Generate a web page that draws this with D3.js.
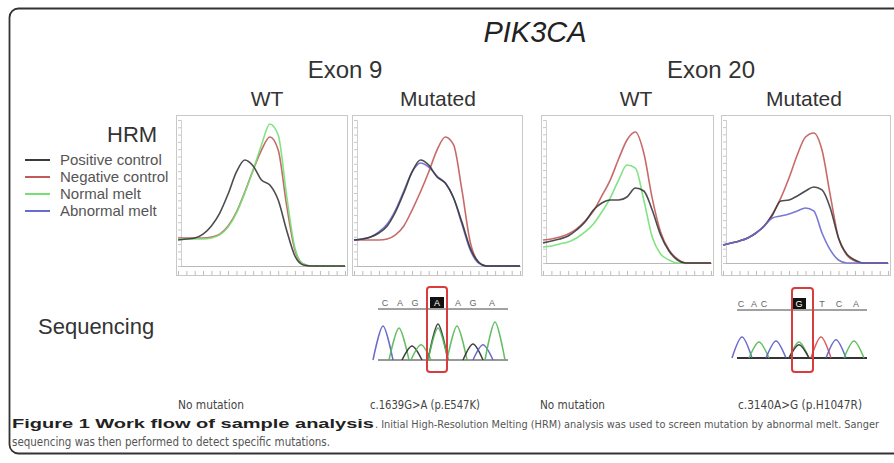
<!DOCTYPE html>
<html>
<head>
<meta charset="utf-8">
<script src="https://cdn.jsdelivr.net/npm/d3@7"></script>
<style>
body { margin: 0; background: #fff; }
text { font-family: Arial, "Liberation Sans", sans-serif; }
.narrow { font-family: "DejaVu Sans Condensed", "Liberation Sans Narrow", sans-serif; font-stretch: condensed; }
</style>
</head>
<body>
<div id="fig"></div>
<script>
// ---- data ----
const seriesNames = ["Positive control", "Negative control", "Normal melt", "Abnormal melt"];
const meltTemp = [76.0, 76.5, 77.0, 77.5, 78.0, 78.5, 79.0, 79.5, 80.0, 80.5, 81.0,
                  81.5, 82.0, 82.5, 83.0, 83.5, 84.0, 84.5, 85.0, 85.5, 86.0];

// -dF/dT (arbitrary units)
const exon9WtPos  = [17.3, 18, 18.7, 21.3, 26.7, 35.3, 48, 62.7, 70.7, 66.7, 57.3, 54, 44, 24, 6.7, 0.7, 0, 0, 0, 0, 0];
const exon9WtNeg  = [18.7, 18.7, 18.7, 18.7, 19.3, 21.3, 26.7, 36, 49.3, 64, 77.3, 86, 77.3, 40.7, 10.7, 1.3, 0, 0, 0, 0, 0];
const exon9WtNorm = [18, 18, 18, 18, 18.7, 20.7, 26, 35.3, 48.7, 64, 80.7, 94.7, 87.3, 47.3, 12, 1.3, 0, 0, 0, 0, 0];

const exon9MutPos = [17.3, 18, 19.3, 22, 26.7, 36, 48.7, 62.7, 70.7, 67.3, 59.3, 55.3, 45.3, 29.3, 12, 2.7, 0, 0, 0, 0, 0];
const exon9MutNeg = [17.3, 17.3, 17.3, 17.3, 18, 20.7, 26.7, 37.3, 49.3, 62.7, 77.3, 86, 80.7, 50.7, 16, 2.7, 0, 0, 0, 0, 0];
const exon9MutAbn = [17.3, 18, 19.3, 22.7, 28, 37.3, 50, 62.7, 68.7, 66, 60, 55.3, 45.3, 28, 10.7, 2, 0, 0, 0, 0, 0];

const exon20WtPos  = [13.3, 14.7, 16, 18, 22, 27.3, 35.3, 40, 42, 42, 44, 50, 48, 35.3, 18.7, 8, 2, 0, 0, 0, 0];
const exon20WtNeg  = [15.3, 16, 17.3, 19.3, 22.7, 28, 34.7, 44.7, 55.3, 69.3, 82, 87.3, 73.3, 43.3, 20.7, 8.7, 2.7, 0, 0, 0, 0];
const exon20WtNorm = [10.7, 11.3, 12.7, 14, 16.7, 20.7, 26, 34, 43.3, 55.3, 65.3, 63.3, 42, 17.3, 6, 2, 0, 0, 0, 0, 0];

const exon20MutPos = [12, 13.3, 14.7, 16.7, 20, 24.7, 32, 41.3, 42, 44.7, 48, 50.7, 48.7, 36.7, 16.7, 6, 2, 0, 0, 0, 0];
const exon20MutNeg = [12, 13.3, 14.7, 16.7, 20, 24.7, 32.7, 43.3, 56.7, 72, 84, 86.7, 75.3, 45.3, 16.7, 5.3, 1.3, 0, 0, 0, 0];
const exon20MutAbn = [12, 13.3, 14.7, 16.7, 20, 24.7, 30, 31.3, 32.7, 34.7, 36.7, 34.7, 20, 8.7, 2, 0, 0, 0, 0, 0, 0];

// sequencing traces
const exon9Calls = ["C", "A", "G", "A", "A", "G", "A"];
const exon9CallScan = [5, 20, 35, 57, 78, 93, 112];
const exon9PeakScan = [3, 19, 32, 41, 58, 58, 77, 93, 103, 115];
const exon9PeakBase = ["C", "A", "G", "A", "G", "A", "A", "G", "C", "A"];
const exon9PeakHeight = [0.85, 0.8, 0.35, 0.38, 0.9, 0.8, 0.85, 0.4, 0.38, 0.95];

const exon20Calls = ["C", "A", "C", "G", "T", "C", "A"];
const exon20CallScan = [2, 15, 25, 60, 83, 100, 117];
const exon20PeakScan = [3, 20, 37, 60, 60, 82, 97, 115];
const exon20PeakBase = ["C", "A", "C", "A", "G", "T", "C", "A"];
const exon20PeakHeight = [0.55, 0.42, 0.45, 0.42, 0.35, 0.55, 0.48, 0.45];

const mutationLabels = ["No mutation", "c.1639G>A (p.E547K)", "No mutation", "c.3140A>G (p.H1047R)"];

// ---- drawing ----
const svg = d3.select("#fig").append("svg")
    .attr("width", 894)
    .attr("height", 463);

// outer frame
svg.append("rect")
    .attr("x", 9.5).attr("y", 8.5)
    .attr("width", 910).attr("height", 445)
    .attr("rx", 9)
    .attr("fill", "none")
    .attr("stroke", "#333")
    .attr("stroke-width", 1.8);

svg.append("text")
    .attr("x", 535).attr("y", 42)
    .attr("text-anchor", "middle")
    .attr("font-size", 29)
    .attr("font-style", "italic")
    .attr("fill", "#222")
    .text("PIK3CA");

[["Exon 9", 345], ["Exon 20", 711]].forEach(d => {
    svg.append("text")
        .attr("x", d[1]).attr("y", 78)
        .attr("text-anchor", "middle")
        .attr("font-size", 24)
        .attr("fill", "#333")
        .text(d[0]);
});

const color = d3.scaleOrdinal()
    .domain(seriesNames)
    .range(["#3a3a3a", "#c25a5a", "#74e074", "#6a6ad0"]);

// legend
svg.append("text")
    .attr("x", 107).attr("y", 142)
    .attr("font-size", 22)
    .attr("fill", "#333")
    .text("HRM");

let legend = svg.selectAll(".legend")
    .data(seriesNames)
    .enter().append("g")
    .attr("class", "legend")
    .attr("transform", (d, i) => "translate(0," + (160 + i * 17) + ")");

legend.append("line")
    .attr("x1", 25).attr("x2", 50)
    .attr("stroke", color)
    .attr("stroke-width", 2);

legend.append("text")
    .attr("x", 60)
    .attr("dy", ".35em")
    .attr("font-size", 15)
    .attr("fill", "#555")
    .text(d => d);

// HRM panels
const panels = [
    { x0: 176, x1: 347, base: 266, title: "WT", tx: 267, series: [[exon9WtNeg, 1], [exon9WtNorm, 2], [exon9WtPos, 0]] },
    { x0: 352, x1: 522, base: 266, title: "Mutated", tx: 438, series: [[exon9MutNeg, 1], [exon9MutAbn, 3], [exon9MutPos, 0]] },
    { x0: 541, x1: 713, base: 263, title: "WT", tx: 636, series: [[exon20WtNorm, 2], [exon20WtNeg, 1], [exon20WtPos, 0]] },
    { x0: 721, x1: 890, base: 263, title: "Mutated", tx: 804, series: [[exon20MutNeg, 1], [exon20MutPos, 0], [exon20MutAbn, 3]] }
];

panels.forEach(p => {
    svg.append("text")
        .attr("x", p.tx).attr("y", 106)
        .attr("text-anchor", "middle")
        .attr("font-size", 21)
        .attr("fill", "#333")
        .text(p.title);

    const g = svg.append("g");
    g.append("rect")
        .attr("x", p.x0 + 0.5).attr("y", 115.5)
        .attr("width", p.x1 - p.x0).attr("height", 160)
        .attr("fill", "#fff")
        .attr("stroke", "#c8c8c8");

    const x = d3.scaleLinear().domain(d3.extent(meltTemp)).range([p.x0 + 2, p.x1 - 2]);
    const y = d3.scaleLinear().domain([0, 100]).range([p.base, p.base - 150]);

    // tick rows
    g.append("g")
        .attr("transform", "translate(0,271)")
        .call(d3.axisBottom(x).ticks(24).tickSize(4).tickFormat(""))
        .call(a => a.select(".domain").remove())
        .selectAll("line").attr("stroke", "#bdbdbd");
    g.append("g")
        .attr("transform", "translate(" + (p.x0 + 5) + ",0)")
        .call(d3.axisLeft(d3.scaleLinear().domain([0, 1]).range([p.base, 120])).ticks(20).tickSize(3).tickFormat(""))
        .call(a => a.select(".domain").attr("stroke", "#d0d0d0"))
        .selectAll("line").attr("stroke", "#c8c8c8");
    g.append("line")
        .attr("x1", p.x0 + 5).attr("x2", p.x1 - 1)
        .attr("y1", p.base + 0.5).attr("y2", p.base + 0.5)
        .attr("stroke", "#b8b8b8");

    const line = d3.line()
        .x((d, i) => x(meltTemp[i]))
        .y(d => y(d))
        .curve(d3.curveMonotoneX);

    p.series.forEach(s => {
        g.append("path")
            .attr("d", line(s[0]))
            .attr("fill", "none")
            .attr("stroke", color(seriesNames[s[1]]))
            .attr("stroke-width", 1.6)
            .attr("stroke-opacity", 0.9);
    });
});

svg.append("text")
    .attr("x", 38).attr("y", 334)
    .attr("font-size", 22)
    .attr("fill", "#333")
    .text("Sequencing");

// chromatograms
const baseColor = d3.scaleOrdinal()
    .domain(["A", "C", "G", "T"])
    .range(["#52b852", "#5a5ac8", "#2a2a2a", "#d84848"]);

const traces = [
    { x0: 378, x1: 508, letterY: 303, lineY: 309, base: 360, h: 40, thick: 1,
      calls: exon9Calls, callScan: exon9CallScan, mut: 3,
      scan: exon9PeakScan, peakBase: exon9PeakBase, height: exon9PeakHeight, box: [427, 287, 20, 85] },
    { x0: 737, x1: 867, letterY: 304, lineY: 310, base: 358, h: 38, thick: 2,
      calls: exon20Calls, callScan: exon20CallScan, mut: 3,
      scan: exon20PeakScan, peakBase: exon20PeakBase, height: exon20PeakHeight, box: [792, 288, 21, 84] }
];

traces.forEach(t => {
    const g = svg.append("g");
    const x = d3.scaleLinear().domain([-2, 128]).range([t.x0, t.x1]);
    const y = d3.scaleLinear().domain([0, 1]).range([t.base, t.base - t.h]);

    g.append("line")
        .attr("x1", t.x0).attr("x2", t.x1)
        .attr("y1", t.lineY).attr("y2", t.lineY)
        .attr("stroke", "#444").attr("stroke-width", 1);
    g.append("line")
        .attr("x1", t.x0).attr("x2", t.x1)
        .attr("y1", t.base).attr("y2", t.base)
        .attr("stroke", "#333").attr("stroke-width", t.thick);

    // highlight behind mutated call
    g.append("rect")
        .attr("x", x(t.callScan[t.mut]) - 7).attr("y", t.letterY - 6)
        .attr("width", 14).attr("height", 11)
        .attr("fill", "#111");

    g.selectAll(".call")
        .data(t.calls)
        .enter().append("text")
        .attr("x", (d, i) => x(t.callScan[i]))
        .attr("y", t.letterY)
        .attr("dy", ".35em")
        .attr("text-anchor", "middle")
        .attr("font-size", 9)
        .attr("fill", (d, i) => i === t.mut ? "#fff" : "#666")
        .text(d => d);

    const peak = d3.line()
        .x(d => x(d[0]))
        .y(d => y(d[1]))
        .curve(d3.curveCardinal.tension(0.1));

    t.scan.forEach((s, i) => {
        g.append("path")
            .attr("d", peak([[s - 10, 0], [s, t.height[i]], [s + 10, 0]]))
            .attr("fill", "none")
            .attr("stroke", baseColor(t.peakBase[i]))
            .attr("stroke-width", 1.5)
            .attr("stroke-opacity", 0.9);
    });

    g.append("rect")
        .attr("x", t.box[0]).attr("y", t.box[1])
        .attr("width", t.box[2]).attr("height", t.box[3])
        .attr("rx", 3)
        .attr("fill", "none")
        .attr("stroke", "#d83c3c")
        .attr("stroke-width", 2);
});

// bottom labels
const labelX = [178, 370, 540, 738];
const labelW = [66, 110, 65, 124];
svg.selectAll(".mut")
    .data(mutationLabels)
    .enter().append("text")
    .attr("class", "narrow")
    .attr("x", (d, i) => labelX[i])
    .attr("y", 409)
    .attr("font-size", 12)
    .attr("fill", "#444")
    .attr("textLength", (d, i) => labelW[i])
    .attr("lengthAdjust", "spacingAndGlyphs")
    .text(d => d);

// caption
svg.append("text")
    .attr("x", 12).attr("y", 428)
    .attr("font-size", 13)
    .attr("font-weight", "bold")
    .attr("fill", "#222")
    .attr("textLength", 362)
    .attr("lengthAdjust", "spacingAndGlyphs")
    .text("Figure 1 Work flow of sample analysis");

svg.append("text")
    .attr("class", "narrow")
    .attr("x", 375).attr("y", 428)
    .attr("font-size", 11)
    .attr("fill", "#555")
    .attr("textLength", 504)
    .attr("lengthAdjust", "spacingAndGlyphs")
    .text(". Initial High-Resolution Melting (HRM) analysis was used to screen mutation by abnormal melt. Sanger");

svg.append("text")
    .attr("class", "narrow")
    .attr("x", 12).attr("y", 446)
    .attr("font-size", 11.5)
    .attr("fill", "#555")
    .attr("textLength", 318)
    .attr("lengthAdjust", "spacingAndGlyphs")
    .text("sequencing was then performed to detect specific mutations.");
</script>
</body>
</html>
